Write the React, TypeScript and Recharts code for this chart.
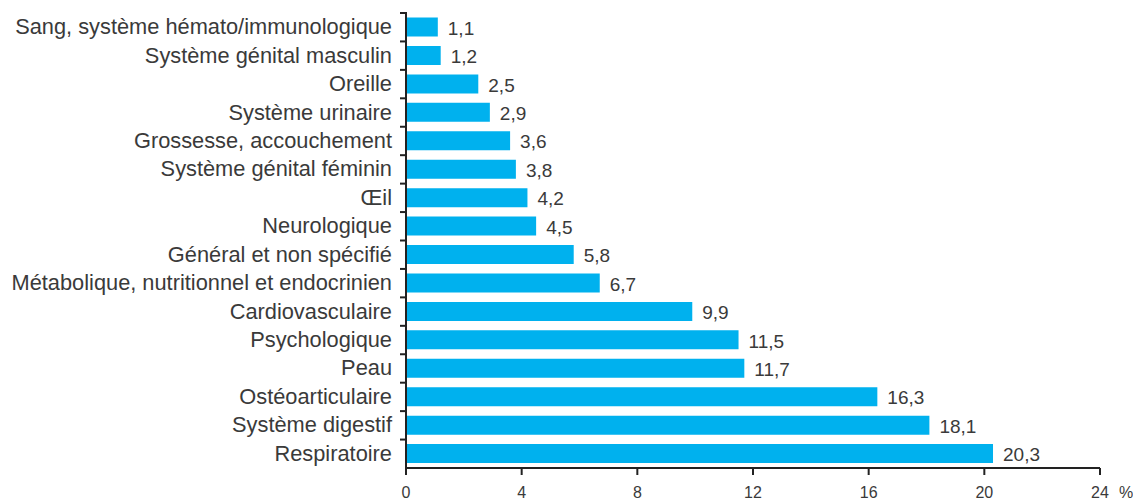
import React from "react";
import { BarChart, Bar, XAxis, YAxis, LabelList } from "recharts";

const categories = [
  "Sang, système hémato/immunologique",
  "Système génital masculin",
  "Oreille",
  "Système urinaire",
  "Grossesse, accouchement",
  "Système génital féminin",
  "Œil",
  "Neurologique",
  "Général et non spécifié",
  "Métabolique, nutritionnel et endocrinien",
  "Cardiovasculaire",
  "Psychologique",
  "Peau",
  "Ostéoarticulaire",
  "Système digestif",
  "Respiratoire",
];
const values = [1.1, 1.2, 2.5, 2.9, 3.6, 3.8, 4.2, 4.5, 5.8, 6.7, 9.9, 11.5, 11.7, 16.3, 18.1, 20.3];
const xTicks = [0, 4, 8, 12, 16, 20, 24];

const data = categories.map((name, i) => ({ name, value: values[i] }));

const W = 1125;
const H = 492;
const margin = { top: 5, right: 33, bottom: 0, left: 0 };
const X_AXIS_H = 32;
const plotH = H - margin.top - margin.bottom - X_AXIS_H;
const band = plotH / categories.length;
const FONT = "'Liberation Sans', Arial, sans-serif";
const TEXT = "#3a3a3a";

const YTick = (props: any) => {
  const { x, y, payload } = props;
  return (
    <g>
      <line x1={x + 2} x2={x + 9} y1={y - band / 2} y2={y - band / 2} stroke="#222" strokeWidth={2} />
      <text x={x - 6} y={y} dy={7} textAnchor="end" fill={TEXT} fontSize={21.8} fontFamily={FONT}>
        {payload.value}
      </text>
    </g>
  );
};

const XTick = (props: any) => {
  const { x, y, payload } = props;
  return (
    <g>
      <text x={x} y={y + 21} textAnchor="middle" fill={TEXT} fontSize={16} fontFamily={FONT}>
        {payload.value}
      </text>
      {payload.value === 24 && (
        <text x={x + 26} y={y + 21} textAnchor="middle" fill={TEXT} fontSize={16} fontFamily={FONT}>
          %
        </text>
      )}
    </g>
  );
};

export default function App() {
  return (
    <div style={{ width: W, height: H, background: "#fff" }}>
      <BarChart width={W} height={H} data={data} layout="vertical" margin={margin} barCategoryGap={4.5}>
        <XAxis
          type="number"
          domain={[0, 24]}
          ticks={xTicks}
          height={X_AXIS_H}
          axisLine={{ stroke: "#222", strokeWidth: 2 }}
          tickLine={{ stroke: "#222", strokeWidth: 2 }}
          tickSize={7}
          tick={<XTick />}
        />
        <YAxis
          type="category"
          dataKey="name"
          width={398}
          axisLine={{ stroke: "#222", strokeWidth: 2 }}
          tickLine={false}
          tick={<YTick />}
          interval={0}
        />
        <Bar dataKey="value" fill="#00B1EE" isAnimationActive={false}>
          <LabelList
            dataKey="value"
            position="right"
            offset={10}
            formatter={(v: any) => String(v).replace(".", ",")}
            style={{ fill: TEXT, fontSize: 19, fontFamily: FONT }}
            dy={1}
          />
        </Bar>
      </BarChart>
    </div>
  );
}
